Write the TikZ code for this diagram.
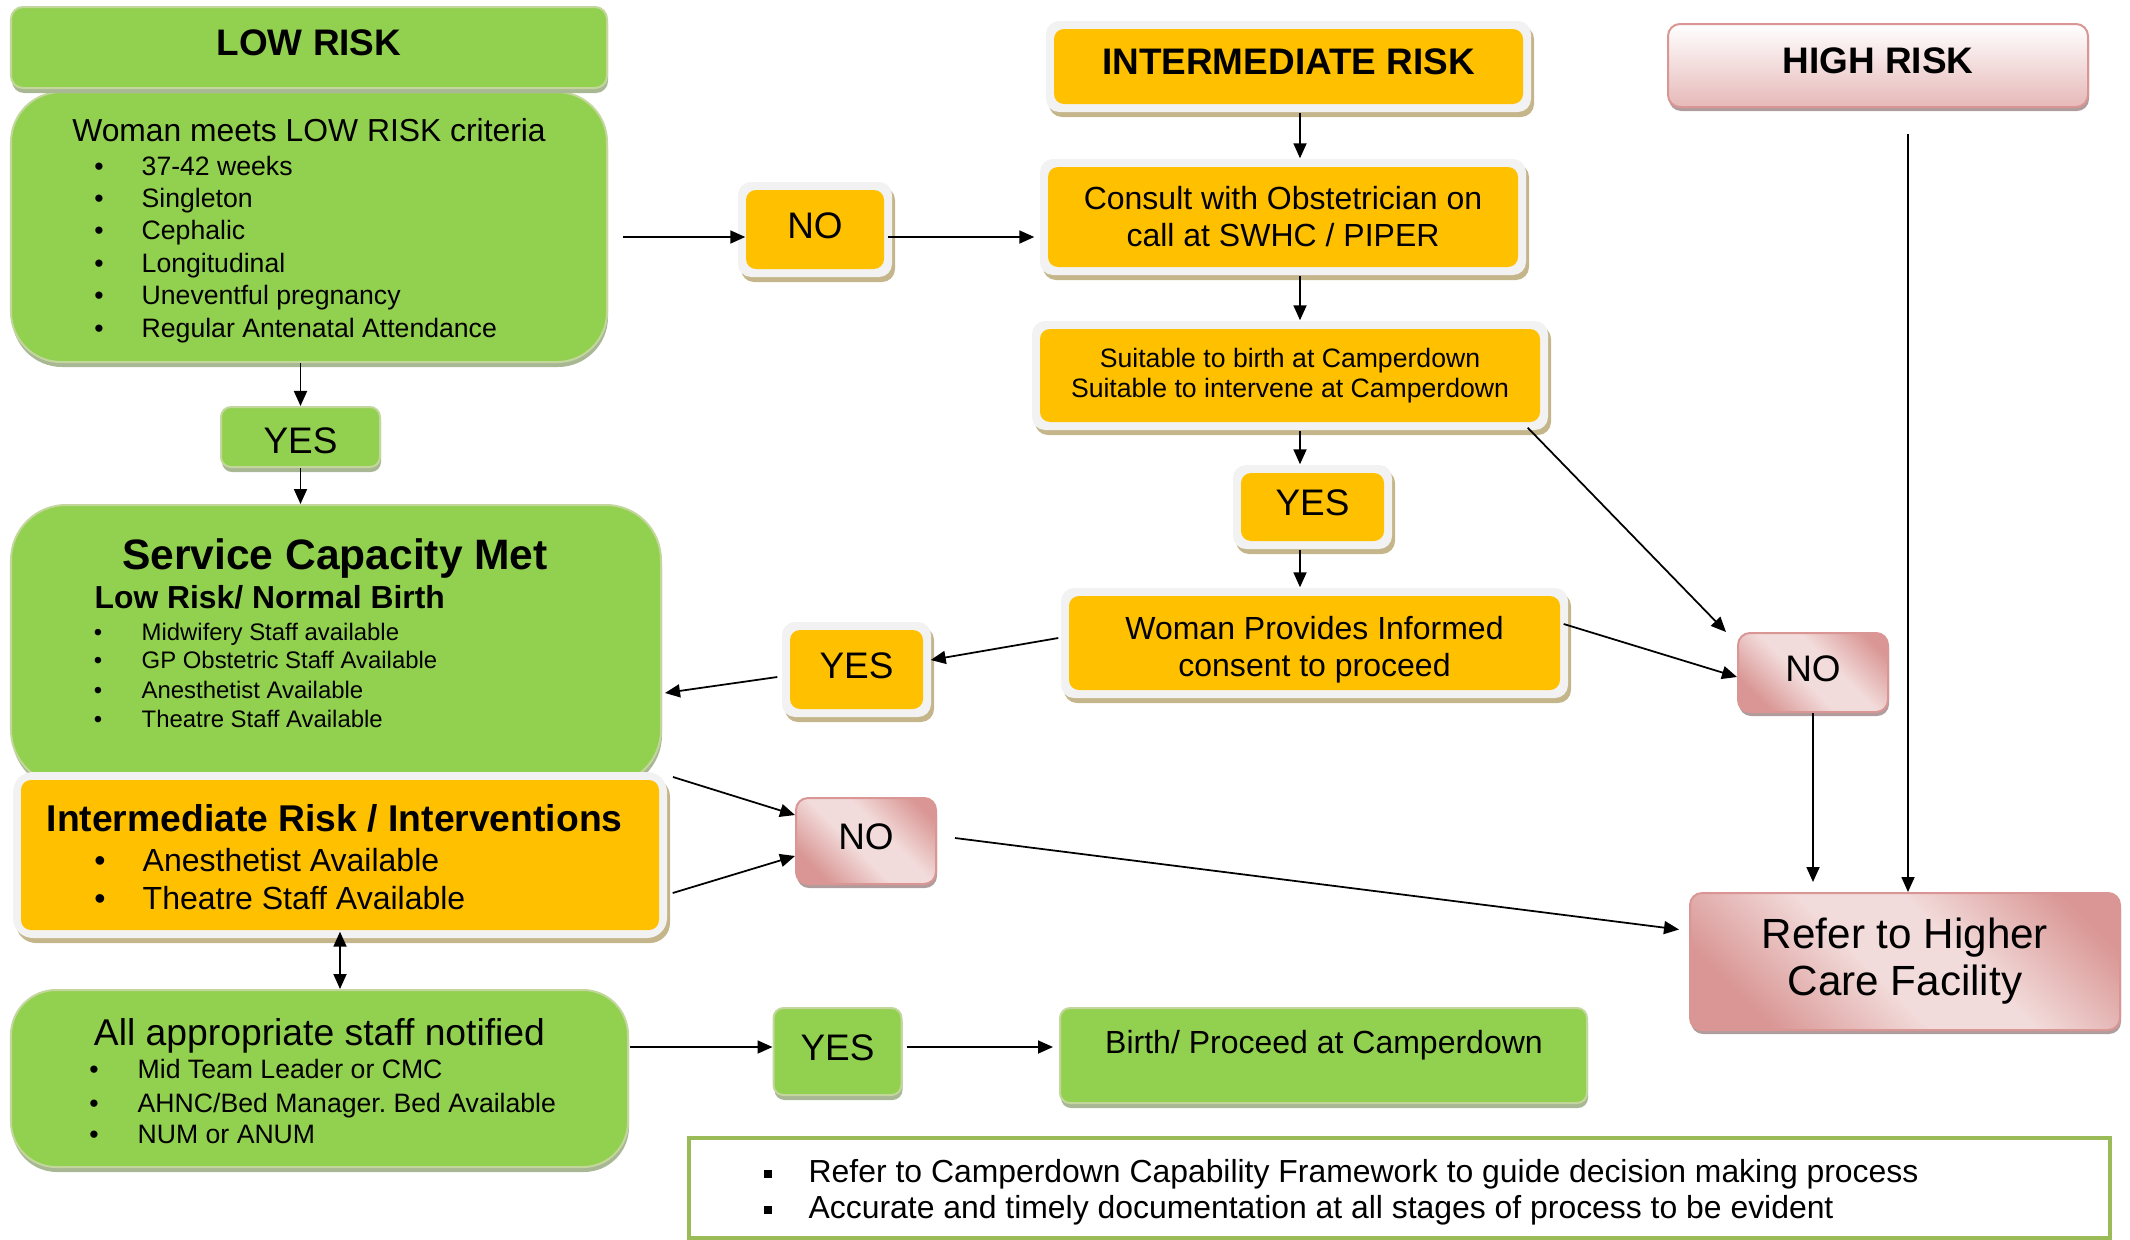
\documentclass[tikz,border=0pt]{standalone}
\usepackage{fontspec}
\setmainfont{Liberation Sans}
\usepackage{tikz}
\usetikzlibrary{positioning}
\usetikzlibrary{calc}
\usetikzlibrary{shadows}
\usetikzlibrary{arrows.meta}
\usepackage{xcolor}
\frenchspacing

\definecolor{yel}{HTML}{FFC000}
\definecolor{yelrim}{HTML}{F2F2F2}
\definecolor{yelshadow}{HTML}{C4B58A}
\definecolor{grn}{HTML}{92D050}
\definecolor{grnrim}{HTML}{C3D69B}
\definecolor{grnshadow}{HTML}{A9B894}
\definecolor{pinkd}{HTML}{D99694}
\definecolor{pinkl}{HTML}{F2DCDB}
\definecolor{pinkh}{HTML}{E6B9B8}
\definecolor{pinkshadow}{HTML}{B09C9C}
\definecolor{olive}{HTML}{9BBB59}

\pgfdeclarehorizontalshading{pinkband}{100bp}{color(0bp)=(pinkd); color(25bp)=(pinkd); color(45bp)=(pinkl); color(58bp)=(pinkl); color(78bp)=(pinkd); color(100bp)=(pinkd)}

\tikzset{
  boxsize/.style 2 args={minimum width=#1*0.01cm, minimum height=#2*0.01cm, inner sep=0pt},
  ybox/.style={rounded corners=0.13cm, fill=yelrim,
    drop shadow={shadow xshift=0.03cm, shadow yshift=-0.05cm, fill=yelshadow, opacity=1},
    path picture={\fill[yel, rounded corners=0.1cm]
      ([shift={(0.08cm,-0.08cm)}]path picture bounding box.north west) rectangle
      ([shift={(-0.08cm,0.08cm)}]path picture bounding box.south east);}},
  gbox/.style={rounded corners=#1, fill=grn, draw=grnrim, line width=0.02cm,
    drop shadow={shadow xshift=0.01cm, shadow yshift=-0.05cm, fill=grnshadow, opacity=1}},
  gbox/.default=0.1cm,
  pbox/.style={rounded corners=0.12cm, draw=pinkd, line width=0.02cm, shade, shading=pinkband, shading angle=45,
    drop shadow={shadow xshift=0.01cm, shadow yshift=-0.04cm, fill=pinkshadow, opacity=1}},
  hbox/.style={rounded corners=0.12cm, draw=pinkd, line width=0.02cm, top color=white, bottom color=pinkh,
    drop shadow={shadow xshift=0.01cm, shadow yshift=-0.04cm, fill=pinkshadow, opacity=1}},
  tnode/.style={inner sep=0pt},
  fhead/.style={font=\bfseries\fontsize{10.5}{12.6}\selectfont, text depth=0.09cm},
  fyn/.style={font=\fontsize{10.5}{12.6}\selectfont, text depth=0.08cm},
  fmid/.style={font=\fontsize{9.1}{10.5}\selectfont, align=center},
  fitem/.style={font=\fontsize{7.57}{8.6}\selectfont},
  arr/.style={line width=0.5pt, -{Triangle[length=0.15cm, width=0.13cm]}},
}

\begin{document}
\begin{tikzpicture}[x=0.01cm, y=-0.01cm]

\useasboundingbox (0,0) rectangle (2130,1239);

% low risk column
\node[gbox=0.5cm, boxsize={596}{270}] (crit) at (309,227) {};
\node[gbox=0.12cm, boxsize={596}{81}, fhead] (lowhead) at (309,47.5) {LOW RISK};

\node[tnode, anchor=base, font=\fontsize{9.05}{10.5}\selectfont] (crittitle) at (309,141) {Woman meets LOW RISK criteria};
\foreach \txt/\yy [count=\i] in {37-42 weeks/175, Singleton/207, Cephalic/239, Longitudinal/272, Uneventful pregnancy/304, Regular Antenatal Attendance/337}{
  \node[tnode, anchor=base, fitem] (critdot\i) at (99,\yy) {•};
  \node[tnode, anchor=base west, fitem] (crititem\i) at (141,\yy) {\txt};
}

\node[gbox, boxsize={159}{60}, fyn, text depth=0pt, text height=0.32cm] (yes1) at (300.5,437) {YES};

\node[gbox=0.55cm, boxsize={650}{280}] (svc) at (336,645) {};
\node[tnode, anchor=base, font=\bfseries\fontsize{12.1}{13.4}\selectfont] (svctitle) at (335,569) {Service Capacity Met};
\node[tnode, anchor=base west, font=\bfseries\fontsize{9.05}{10.5}\selectfont] (svcsub) at (94,608) {Low Risk/ Normal Birth};
\foreach \txt/\yy [count=\i] in {Midwifery Staff available/640, GP Obstetric Staff Available/668, Anesthetist Available/698, Theatre Staff Available/727}{
  \node[tnode, anchor=base, font=\fontsize{6.8}{8}\selectfont] (svcdot\i) at (98,\yy) {•};
  \node[tnode, anchor=base west, font=\fontsize{6.8}{8}\selectfont] (svcitem\i) at (141,\yy) {\txt};
}

\node[ybox, rounded corners=0.2cm, boxsize={654}{166}] (interv) at (340,855) {};
\node[tnode, anchor=base west, font=\bfseries\fontsize{10.6}{12.6}\selectfont] (intervtitle) at (46,831) {Intermediate Risk / Interventions};
\foreach \txt/\yy [count=\i] in {Anesthetist Available/871, Theatre Staff Available/909}{
  \node[tnode, anchor=base, font=\fontsize{9.1}{10.5}\selectfont] (intervdot\i) at (100,\yy) {•};
  \node[tnode, anchor=base west, font=\fontsize{9.1}{10.5}\selectfont] (intervitem\i) at (142,\yy) {\txt};
}

\node[gbox=0.45cm, boxsize={617}{177}] (allstaff) at (319.5,1078.5) {};
\node[tnode, anchor=base, font=\fontsize{10.6}{12.6}\selectfont] (alltitle) at (319.5,1045) {All appropriate staff notified};
\foreach \txt/\yy [count=\i] in {Mid Team Leader or CMC/1078, {AHNC/Bed Manager. Bed Available}/1112, NUM or ANUM/1143}{
  \node[tnode, anchor=base, fitem] (alldot\i) at (94,\yy) {•};
  \node[tnode, anchor=base west, fitem] (allitem\i) at (137,\yy) {\txt};
}

\node[gbox, boxsize={128}{87}, fyn] (yes4) at (837.5,1051.5) {YES};
\node[gbox, boxsize={527}{95}] (birth) at (1323.5,1055.5) {};
\node[tnode, anchor=base, font=\fontsize{9.1}{10.5}\selectfont] (birthtext) at (1324,1053) {Birth/ Proceed at Camperdown};

% intermediate risk column
\node[ybox, boxsize={485}{91}, fhead] (imhead) at (1288.5,66.5) {INTERMEDIATE RISK};
\node[ybox, boxsize={154}{95}, fyn] (no1) at (815,229.5) {NO};
\node[ybox, boxsize={486}{116}, fmid] (consult) at (1283,217) {Consult with Obstetrician on\\call at SWHC / PIPER};
\node[ybox, boxsize={516}{109}, fitem, align=center, font=\fontsize{7.57}{8.55}\selectfont] (suitable) at (1290,375.5) {Suitable to birth at Camperdown\\Suitable to intervene at Camperdown};
\node[ybox, boxsize={159}{84}, fyn] (yes2) at (1312.5,507) {YES};
\node[ybox, boxsize={507}{110}] (woman) at (1314.5,643) {};
\node[tnode, fmid] (womantext) at (1314.5,650) {Woman Provides Informed\\consent to proceed};
\node[ybox, boxsize={149}{95}, fyn] (yes3) at (856.5,669.5) {YES};

% high risk column
\node[hbox, boxsize={420}{83}, fhead] (highhead) at (1878,65.5) {HIGH RISK};
\node[pbox, boxsize={150}{79}, fyn] (no2) at (1813,672.5) {NO};
\node[pbox, boxsize={140}{86}, fyn] (no3) at (866,841) {NO};
\node[pbox, boxsize={430}{137}, align=center, font=\fontsize{12}{13.4}\selectfont] (refer) at (1905,961.5) {Refer to Higher\\Care Facility};

% note
\node[draw=olive, line width=0.04cm, fill=white, boxsize={1421}{100}] (note) at (1399.5,1188) {};
\node[tnode, anchor=base, font=\fontsize{9.07}{10.5}\selectfont] (notedot1) at (768,1182) {\rule[0.04cm]{0.08cm}{0.08cm}};
\node[tnode, anchor=base, font=\fontsize{9.07}{10.5}\selectfont] (notedot2) at (768,1218) {\rule[0.04cm]{0.08cm}{0.08cm}};
\node[tnode, anchor=base west, font=\fontsize{9.07}{10.5}\selectfont] (note1) at (808,1182) {Refer to Camperdown Capability Framework to guide decision making process};
\node[tnode, anchor=base west, font=\fontsize{9.07}{10.5}\selectfont] (note2) at (808,1218) {Accurate and timely documentation at all stages of process to be evident};

% arrows
\coordinate (vline) at (1300,0);

\draw[arr] ($(crit.east)+(15,10)$) -- ($(no1.west)+(8,7.5)$);
\draw[arr] ($(no1.east)+(-5,7.5)$) -- ($(consult.west)+(-5,20)$);
\draw[arr] (imhead.south -| vline) -- (consult.north -| vline);
\draw[arr] (consult.south -| vline) -- (suitable.north -| vline);
\draw[arr] (suitable.south -| vline) -- (yes2.north -| vline);
\draw[arr] (yes2.south -| vline) -- (woman.north -| vline);
\draw[arr] ($(woman.west)+(-2,-5)$) -- ($(yes3.east)+(-1,-9.5)$);
\draw[arr] ($(yes3.west)+(-4,7.5)$) -- ($(svc.east)+(3,48)$);
\draw[arr] ($(suitable.south east)+(-21,-3)$) -- ($(no2.north west)+(-11,0)$);
\draw[arr] ($(woman.east)+(-5,-19)$) -- ($(no2.west)+(0,4.5)$);
\draw[arr] (no2.south) -- ($(no2.south |- refer.north)+(0,-10)$);
\draw[arr] ($(highhead.south)+(30,26)$) coordinate (hstart) -- (hstart |- refer.north);
\draw[arr] ($(svc.south east)+(11,-9)$) -- ($(no3.west)+(0,-26)$);
\draw[arr] ($(interv.east)+(5,38)$) -- ($(no3.west)+(0,15)$);
\draw[arr] ($(no3.east)+(18,-3)$) -- ($(refer.west)+(-10,-32)$);
\draw[arr] (yes1.north |- crit.south) -- (yes1.north);
\draw[arr] (yes1.south) -- (yes1.south |- svc.north);
\draw[arr, {Triangle[length=0.15cm, width=0.13cm]}-{Triangle[length=0.15cm, width=0.13cm]}] ($(interv.south)+(0,-7)$) -- (interv.south |- allstaff.north);
\draw[arr] ($(allstaff.east)+(1,-31.5)$) -- ($(yes4.west)+(0,-4.5)$);
\draw[arr] ($(yes4.east)+(4.5,-4.5)$) -- ($(birth.west)+(-6,-8.5)$);

\end{tikzpicture}
\end{document}
